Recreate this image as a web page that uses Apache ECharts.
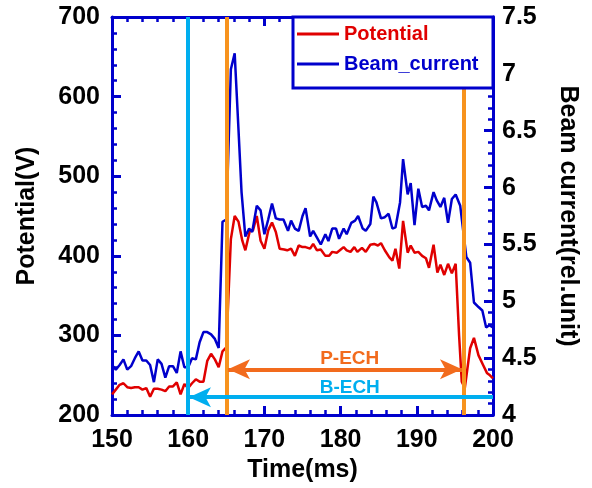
<!DOCTYPE html>
<html><head><meta charset="utf-8">
<script src="https://cdn.jsdelivr.net/npm/echarts@6/dist/echarts.min.js"></script>
<style>html,body{margin:0;padding:0;background:#fff}#c{width:592px;height:488px}</style>
</head><body><div id="c"></div>
<script>
// ---- data ----
const potTime = [150,150.5,151,151.5,152,152.5,153,153.5,154,154.5,155,155.5,156,156.5,157,157.5,158,158.5,159,159.5,160,160.5,161,161.5,162,162.5,163,163.5,164,164.5,165,165.6,166.1,166.6,167.1,167.5,168.1,168.5,169.0,169.5,170.0,170.5,171.0,171.5,172.0,172.6,173.0,173.5,174.0,174.5,175.0,175.4,176.0,176.4,176.9,177.4,178.0,178.5,178.9,179.5,179.9,180.4,180.8,181.3,181.8,182.2,182.8,183.3,183.9,184.4,184.9,185.3,185.8,186.4,186.8,187.2,187.7,188.2,188.8,189.2,189.7,190.2,190.7,191.2,191.6,192.2,192.7,193.1,193.6,194.1,194.6,195.1,195.55,195.9,196.3,197.0,197.5,198.1,198.7,199.2,199.6,200];
const potVal = [226,232,238,240,235,234,235,235,232,234,223,233,233,232,230,236,236,241,226,239,234,240,245,242,242,268,277,270,260,280,285,421,450,443,419,407,432,432,450,419,409,432,442,430,409,408,407,409,400,413,411,411,409,415,407,408,400,400,405,404,407,411,407,405,411,405,410,405,414,415,413,416,407,398,394,409,384,444,404,413,404,405,400,397,385,414,379,389,376,390,378,390,300,242,234,284,297,275,263,253,250,246];
const curTime = [150,150.5,151,151.5,152,152.5,153,153.5,154,154.5,155,155.5,156,156.5,157,157.5,158,158.5,159,159.5,160,160.5,161,161.5,162,162.5,163,163.5,164,164.5,165,165.6,166.1,166.6,167.0,167.5,168.0,168.4,169.0,169.5,170.0,170.5,171.0,171.5,172.0,172.5,173.1,173.5,174.0,174.5,175.0,175.4,176.0,176.4,176.9,177.4,178.0,178.4,178.9,179.4,179.8,180.4,180.8,181.4,181.9,182.3,182.9,183.3,183.9,184.3,184.7,185.3,185.8,186.3,186.8,187.2,187.8,188.2,188.8,189.2,189.7,190.2,190.7,191.2,191.6,192.2,192.6,193.1,193.6,194.1,194.6,195.1,195.7,196.5,197.0,197.5,198.1,198.6,199.1,199.5,200];
const curVal = [4.44,4.40,4.44,4.49,4.40,4.43,4.50,4.56,4.48,4.48,4.44,4.29,4.49,4.45,4.33,4.43,4.43,4.37,4.56,4.42,4.42,4.50,4.49,4.64,4.73,4.73,4.71,4.67,4.59,5.70,5.72,7.04,7.18,6.51,5.96,5.57,5.64,5.61,5.84,5.80,5.59,5.72,5.86,5.73,5.72,5.72,5.62,5.71,5.64,5.62,5.75,5.82,5.57,5.62,5.56,5.50,5.59,5.53,5.64,5.64,5.55,5.64,5.59,5.69,5.71,5.75,5.64,5.62,5.68,5.92,5.87,5.73,5.74,5.77,5.64,5.65,5.87,6.25,5.94,6.04,5.67,5.99,5.83,5.84,5.80,5.96,5.89,5.83,5.91,5.69,5.90,5.94,5.84,5.39,5.34,4.99,4.95,4.92,4.77,4.79,4.77];
const seriesNames = ['Potential','Beam_current'];
const axisNames = ['Time(ms)','Potential(V)','Beam current(rel.unit)'];
const vLinesBECH = [160];
const vLinesPECH = [165, 196.2];
const arrowPECH = {from:165.22, to:195.93, level:257.5, text:'P-ECH', textAt:[181.2, 271]};
const arrowBECH = {from:200, to:160.1, level:222.5, text:'B-ECH', textAt:[181.2, 234.5]};

// ---- style ----
const BLUE = '#0000CC', RED = '#E00000', ORANGE = '#F7931E', ORANGE2 = '#F26B1D', CYAN = '#00AEEF';
const FF = '"Liberation Sans", Arial, sans-serif';

function pairs(t, v){ return t.map((x,i)=>[x, v[i]]); }

const axisLine = {lineStyle:{color:BLUE, width:3}};
const tick = {inside:true, length:9, lineStyle:{color:BLUE, width:3}};
const minor = {show:true, splitNumber:5, length:5, lineStyle:{color:BLUE, width:2.5}};
const lbl = {color:'#000', fontFamily:FF, fontWeight:'bold', fontSize:25};
const nameStyle = {color:'#000', fontFamily:FF, fontWeight:'bold', fontSize:25};

const chart = echarts.init(document.getElementById('c'), null, {renderer:'canvas'});
chart.setOption({
  animation:false,
  backgroundColor:'#fff',
  grid:{left:112, right:99, top:17, bottom:71, containLabel:false},
  xAxis:[
    {type:'value', min:150, max:200, interval:10, position:'bottom',
     name:axisNames[0], nameLocation:'middle', nameGap:40, nameTextStyle:nameStyle,
     axisLine, axisTick:tick, minorTick:minor, splitLine:{show:false},
     axisLabel:Object.assign({margin:13}, lbl)},
    {type:'value', min:150, max:200, interval:10, position:'top',
     axisLine, axisTick:tick, minorTick:minor, splitLine:{show:false},
     axisLabel:{show:false}}
  ],
  yAxis:[
    {type:'value', min:200, max:700, interval:100, position:'left',
     name:axisNames[1], nameLocation:'middle', nameRotate:90, nameGap:72, nameTextStyle:nameStyle,
     axisLine, axisTick:tick, minorTick:minor, splitLine:{show:false},
     axisLabel:Object.assign({margin:12}, lbl)},
    {type:'value', min:4, max:7.5, interval:0.5, position:'right',
     name:axisNames[2], nameLocation:'middle', nameRotate:-90, nameGap:62, nameTextStyle:nameStyle,
     axisLine, axisTick:tick, minorTick:minor, splitLine:{show:false},
     axisLabel:Object.assign({margin:9}, lbl)}
  ],
  legend:{
    orient:'vertical', left:297, top:24, padding:0, itemWidth:42, itemHeight:3, itemGap:10, icon:'rect', z:20,
    textStyle:{fontFamily:FF, fontWeight:'bold', fontSize:20},
    data:[{name:seriesNames[0], textStyle:{color:RED}}, {name:seriesNames[1], textStyle:{color:BLUE}}]
  },
  graphic:[{type:'rect', z:10, shape:{x:293, y:17, width:200, height:71},
    style:{fill:'#fff', stroke:BLUE, lineWidth:3}}],
  series:[
    {name:seriesNames[0], type:'line', xAxisIndex:0, yAxisIndex:0, data:pairs(potTime, potVal),
     showSymbol:false, symbol:'none', lineStyle:{color:RED, width:2.5}, itemStyle:{color:RED}},
    {name:seriesNames[1], type:'line', xAxisIndex:0, yAxisIndex:1, data:pairs(curTime, curVal),
     showSymbol:false, symbol:'none', lineStyle:{color:BLUE, width:2.5}, itemStyle:{color:BLUE}},
    {name:'annot', type:'line', xAxisIndex:0, yAxisIndex:0, data:[], z:5,
     markLine:{silent:true, symbol:'none', animation:false, label:{show:false},
       data:[
         ...vLinesBECH.map(x=>({xAxis:x, lineStyle:{color:CYAN, width:4, type:'solid'}})),
         ...vLinesPECH.map(x=>({xAxis:x, lineStyle:{color:ORANGE, width:4, type:'solid'}})),
         [{coord:[arrowPECH.from, arrowPECH.level], symbol:'arrow', symbolSize:[15,22], lineStyle:{color:ORANGE2, width:4, type:'solid'}},
          {coord:[arrowPECH.to, arrowPECH.level], symbol:'arrow', symbolSize:[15,22], lineStyle:{color:ORANGE2, width:4, type:'solid'}}],
         [{coord:[arrowBECH.from, arrowBECH.level], symbol:'none', lineStyle:{color:CYAN, width:4, type:'solid'}},
          {coord:[arrowBECH.to, arrowBECH.level], symbol:'arrow', symbolSize:[15,22], lineStyle:{color:CYAN, width:4, type:'solid'}}]
       ]},
     markPoint:{silent:true, symbol:'rect', symbolSize:1, itemStyle:{color:'rgba(0,0,0,0)'}, animation:false,
       data:[
         {coord:arrowPECH.textAt, label:{show:true, position:'inside', formatter:arrowPECH.text, color:ORANGE2, fontFamily:FF, fontWeight:'bold', fontSize:19}},
         {coord:arrowBECH.textAt, label:{show:true, position:'inside', formatter:arrowBECH.text, color:CYAN, fontFamily:FF, fontWeight:'bold', fontSize:19}}
       ]}
    }
  ]
});
</script></body></html>
